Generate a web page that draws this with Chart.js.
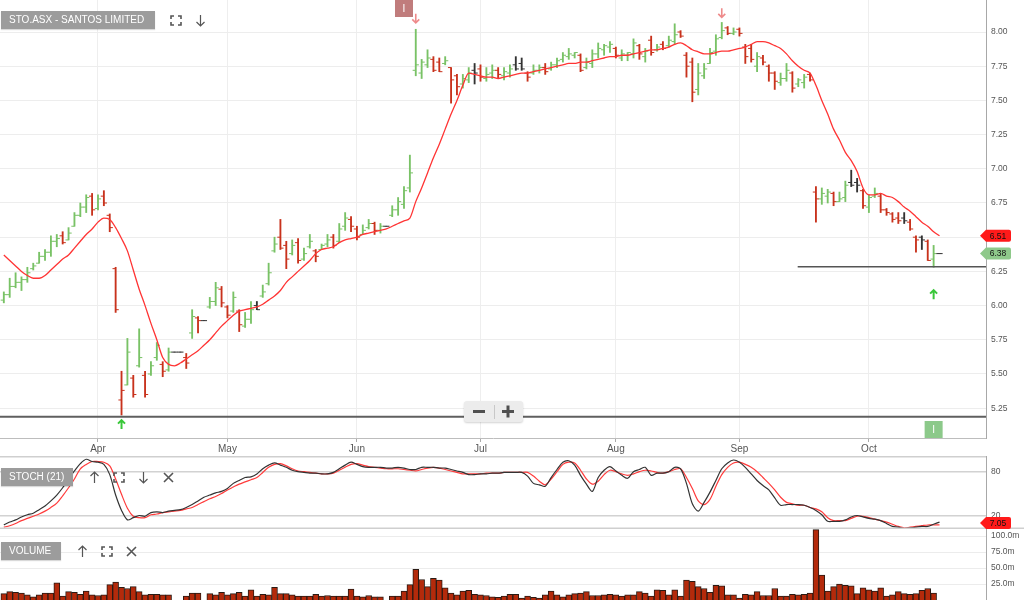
<!DOCTYPE html>
<html>
<head>
<meta charset="utf-8">
<script src="https://cdn.jsdelivr.net/npm/chart.js@4/dist/chart.umd.min.js"></script>
<style>
  body { margin: 0; background: #fff; font-family: "Liberation Sans", Arial, sans-serif; }
  #wrap { position: relative; width: 1024px; height: 603px; overflow: hidden; background: #fff; }
  canvas { position: absolute; left: 0; }
  .lbl { position: absolute; height: 18px; line-height: 18px; background: #9c9c9c; color: #fff;
         font-size: 10px; padding-left: 8px; box-sizing: border-box; box-shadow: 0 1px 1px rgba(0,0,0,.15); }
  .ico { position: absolute; }
  #zoomBox { position: absolute; left: 464px; top: 401px; width: 59px; height: 21px; background: #ececec;
             border-radius: 3px; box-shadow: 0 1px 2px rgba(0,0,0,.18); }
</style>
</head>
<body>
<div id="wrap">
  <canvas id="main" width="1024" height="456" style="top:0"></canvas>
  <canvas id="stoch" width="1024" height="73" style="top:456px"></canvas>
  <canvas id="vol" width="1024" height="71" style="top:529px"></canvas>

  <div class="lbl" style="left:1px;top:11px;width:154px">STO.ASX - SANTOS LIMITED</div>
  <svg class="ico" style="left:170px;top:15px" width="12" height="11"><path d="M1 4V1H4M8 1H11V4M1 7V10H4M8 10H11V7" fill="none" stroke="#555" stroke-width="1.6"/></svg>
  <svg class="ico" style="left:195px;top:14px" width="11" height="13"><path d="M5.5 1V12M1.5 8L5.5 12L9.5 8" fill="none" stroke="#555" stroke-width="1.2"/></svg>

  <div class="lbl" style="left:1px;top:468px;width:72px">STOCH (21)</div>
  <svg class="ico" style="left:89px;top:471px" width="11" height="13"><path d="M5.5 12V1M1.5 5L5.5 1L9.5 5" fill="none" stroke="#555" stroke-width="1.2"/></svg>
  <svg class="ico" style="left:113px;top:472px" width="12" height="11"><path d="M1 4V1H4M8 1H11V4M1 7V10H4M8 10H11V7" fill="none" stroke="#555" stroke-width="1.6"/></svg>
  <svg class="ico" style="left:138px;top:471px" width="11" height="13"><path d="M5.5 1V12M1.5 8L5.5 12L9.5 8" fill="none" stroke="#555" stroke-width="1.2"/></svg>
  <svg class="ico" style="left:163px;top:472px" width="11" height="11"><path d="M1 1L10 10M10 1L1 10" fill="none" stroke="#555" stroke-width="1.6"/></svg>

  <div class="lbl" style="left:1px;top:542px;width:60px">VOLUME</div>
  <svg class="ico" style="left:77px;top:545px" width="11" height="13"><path d="M5.5 12V1M1.5 5L5.5 1L9.5 5" fill="none" stroke="#555" stroke-width="1.2"/></svg>
  <svg class="ico" style="left:101px;top:546px" width="12" height="11"><path d="M1 4V1H4M8 1H11V4M1 7V10H4M8 10H11V7" fill="none" stroke="#555" stroke-width="1.6"/></svg>
  <svg class="ico" style="left:126px;top:546px" width="11" height="11"><path d="M1 1L10 10M10 1L1 10" fill="none" stroke="#555" stroke-width="1.6"/></svg>

  <div id="zoomBox">
    <svg width="59" height="21"><path d="M9 10.5H21" stroke="#505050" stroke-width="3"/><path d="M30.5 4V18" stroke="#c8c8c8" stroke-width="1"/><path d="M38 10.5H50M44 4.5V16.5" stroke="#505050" stroke-width="3"/></svg>
  </div>
</div>

<script>
// one slot per weekday, slot 0 = 10 Mar 2025; holidays shown as flat bars
const monthSlots = [16, 38, 60, 81, 104, 125, 147];
const monthNames = ['Apr', 'May', 'Jun', 'Jul', 'Aug', 'Sep', 'Oct'];
const priceTicks = [5.25, 5.5, 5.75, 6.0, 6.25, 6.5, 6.75, 7.0, 7.25, 7.5, 7.75, 8.0];
const stochTicks = [20, 80];
const volumeTicks = [25, 50, 75, 100];

const opens = [
  6.04, 6.08, 6.14, 6.17, 6.19, 6.27, 6.31, 6.36, 6.39, 6.47,
  6.51, 6.48, 6.58, 6.66, 6.72, 6.80, 6.71, 6.80, 6.66, 6.27,
  5.31, 5.42, 5.47, 5.56, 5.49, 5.50, 5.62, 5.57, 5.53, 5.66,
  5.66, 5.62, 5.80, 5.91, 5.89, 5.99, 6.03, 6.12, 5.99, 5.96,
  5.96, 5.85, 5.90, 6.00, 6.07, 6.16, 6.40, 6.50, 6.44, 6.38,
  6.46, 6.34, 6.43, 6.40, 6.41, 6.45, 6.50, 6.47, 6.58, 6.63,
  6.56, 6.52, 6.57, 6.60, 6.55, 6.58, 6.66, 6.70, 6.74, 6.86,
  7.72, 7.70, 7.76, 7.80, 7.78, 7.77, 7.74, 7.68, 7.62, 7.65,
  7.72, 7.73, 7.66, 7.70, 7.72, 7.68, 7.70, 7.76, 7.77, 7.70,
  7.70, 7.72, 7.74, 7.73, 7.76, 7.80, 7.82, 7.83, 7.83, 7.74,
  7.77, 7.84, 7.87, 7.89, 7.88, 7.81, 7.83, 7.84, 7.90, 7.82,
  7.94, 7.87, 7.91, 7.90, 7.93, 8.00, 7.83, 7.78, 7.58, 7.68,
  7.77, 7.86, 7.96, 8.03, 7.99, 8.02, 7.89, 7.88, 7.75, 7.81,
  7.75, 7.70, 7.63, 7.66, 7.70, 7.62, 7.63, 7.69, 6.83, 6.78,
  6.80, 6.82, 6.76, 6.79, 6.90, 6.90, 6.84, 6.72, 6.80, 6.80,
  6.70, 6.67, 6.64, 6.64, 6.61, 6.50, 6.50, 6.47, 6.34, 6.38
];
const highs = [
  6.10, 6.20, 6.24, 6.21, 6.28, 6.31, 6.39, 6.41, 6.51, 6.52,
  6.54, 6.57, 6.68, 6.75, 6.81, 6.82, 6.81, 6.84, 6.67, 6.28,
  5.52, 5.76, 5.49, 5.83, 5.52, 5.59, 5.73, 5.59, 5.69, 5.66,
  5.66, 5.65, 5.97, 5.92, 5.89, 6.06, 6.17, 6.14, 6.00, 6.10,
  5.97, 5.95, 6.03, 6.03, 6.15, 6.31, 6.50, 6.63, 6.47, 6.48,
  6.49, 6.42, 6.52, 6.41, 6.45, 6.52, 6.52, 6.60, 6.68, 6.65,
  6.58, 6.59, 6.63, 6.61, 6.60, 6.58, 6.73, 6.79, 6.87, 7.10,
  8.02, 7.80, 7.87, 7.82, 7.81, 7.82, 7.74, 7.69, 7.69, 7.74,
  7.77, 7.76, 7.74, 7.76, 7.74, 7.74, 7.76, 7.82, 7.81, 7.71,
  7.76, 7.76, 7.77, 7.78, 7.81, 7.85, 7.88, 7.85, 7.84, 7.81,
  7.87, 7.92, 7.91, 7.93, 7.89, 7.87, 7.85, 7.95, 7.91, 7.88,
  7.97, 7.91, 7.93, 7.97, 8.06, 8.01, 7.85, 7.81, 7.77, 7.77,
  7.88, 7.98, 8.07, 8.04, 8.03, 8.03, 7.91, 7.91, 7.85, 7.83,
  7.76, 7.71, 7.70, 7.77, 7.71, 7.66, 7.69, 7.70, 6.87, 6.86,
  6.85, 6.83, 6.83, 6.91, 6.99, 6.93, 6.85, 6.81, 6.86, 6.82,
  6.71, 6.68, 6.68, 6.68, 6.63, 6.51, 6.51, 6.48, 6.44, 6.38
];
const lows = [
  6.02, 6.06, 6.13, 6.11, 6.17, 6.26, 6.31, 6.33, 6.36, 6.43,
  6.45, 6.48, 6.58, 6.65, 6.68, 6.66, 6.70, 6.73, 6.54, 5.95,
  5.20, 5.42, 5.33, 5.55, 5.33, 5.49, 5.60, 5.48, 5.52, 5.66,
  5.66, 5.54, 5.76, 5.80, 5.89, 5.98, 6.00, 5.99, 5.91, 5.95,
  5.81, 5.84, 5.87, 5.97, 6.06, 6.15, 6.39, 6.41, 6.27, 6.37,
  6.31, 6.33, 6.42, 6.32, 6.41, 6.43, 6.42, 6.46, 6.55, 6.54,
  6.48, 6.52, 6.56, 6.52, 6.53, 6.58, 6.65, 6.66, 6.71, 6.83,
  7.68, 7.66, 7.74, 7.71, 7.71, 7.76, 7.48, 7.54, 7.59, 7.63,
  7.62, 7.64, 7.64, 7.66, 7.66, 7.65, 7.67, 7.72, 7.72, 7.64,
  7.69, 7.70, 7.69, 7.72, 7.74, 7.78, 7.80, 7.81, 7.71, 7.73,
  7.74, 7.81, 7.83, 7.85, 7.81, 7.79, 7.79, 7.81, 7.80, 7.78,
  7.83, 7.86, 7.87, 7.89, 7.91, 7.96, 7.67, 7.49, 7.54, 7.66,
  7.77, 7.83, 7.95, 7.98, 7.98, 7.97, 7.77, 7.78, 7.71, 7.76,
  7.64, 7.58, 7.61, 7.64, 7.56, 7.60, 7.59, 7.64, 6.61, 6.74,
  6.75, 6.73, 6.76, 6.76, 6.87, 6.83, 6.71, 6.68, 6.79, 6.68,
  6.66, 6.61, 6.60, 6.60, 6.55, 6.39, 6.41, 6.33, 6.28, 6.38
];
const closes = [
  6.08, 6.14, 6.17, 6.19, 6.24, 6.29, 6.36, 6.39, 6.47, 6.49,
  6.46, 6.53, 6.66, 6.72, 6.79, 6.70, 6.78, 6.75, 6.57, 5.97,
  5.38, 5.66, 5.35, 5.62, 5.35, 5.56, 5.71, 5.52, 5.66, 5.66,
  5.66, 5.58, 5.92, 5.89, 5.89, 6.03, 6.13, 6.02, 5.93, 6.06,
  5.86, 5.90, 5.97, 5.97, 6.10, 6.24, 6.45, 6.42, 6.34, 6.44,
  6.33, 6.38, 6.47, 6.36, 6.44, 6.48, 6.44, 6.56, 6.64, 6.58,
  6.50, 6.55, 6.60, 6.55, 6.58, 6.58, 6.70, 6.76, 6.84, 6.97,
  7.76, 7.78, 7.81, 7.72, 7.71, 7.79, 7.65, 7.60, 7.66, 7.70,
  7.70, 7.67, 7.69, 7.72, 7.69, 7.71, 7.73, 7.73, 7.73, 7.67,
  7.72, 7.74, 7.71, 7.76, 7.79, 7.83, 7.84, 7.85, 7.72, 7.78,
  7.84, 7.88, 7.90, 7.91, 7.83, 7.84, 7.85, 7.92, 7.84, 7.86,
  7.85, 7.89, 7.88, 7.94, 7.98, 7.97, 7.75, 7.56, 7.70, 7.73,
  7.85, 7.95, 8.01, 7.99, 8.00, 7.99, 7.82, 7.80, 7.82, 7.78,
  7.70, 7.64, 7.66, 7.72, 7.59, 7.65, 7.67, 7.65, 6.78, 6.82,
  6.83, 6.76, 6.78, 6.88, 6.88, 6.88, 6.73, 6.79, 6.82, 6.70,
  6.68, 6.63, 6.62, 6.62, 6.56, 6.48, 6.48, 6.33, 6.38, 6.38
];
const maValues = [
  6.37, 6.33, 6.29, 6.25, 6.22, 6.20, 6.20, 6.22, 6.26, 6.30,
  6.34, 6.37, 6.42, 6.47, 6.52, 6.56, 6.61, 6.64, 6.63, 6.57,
  6.49, 6.40, 6.26, 6.12, 6.00, 5.87, 5.75, 5.62, 5.57, 5.56,
  5.58, 5.61, 5.64, 5.67, 5.71, 5.75, 5.80, 5.85, 5.89, 5.93,
  5.96, 5.97, 5.98, 5.99, 6.01, 6.04, 6.07, 6.11, 6.17, 6.21,
  6.25, 6.29, 6.33, 6.38, 6.41, 6.42, 6.43, 6.46, 6.48, 6.49,
  6.50, 6.52, 6.53, 6.54, 6.55, 6.56, 6.58, 6.60, 6.62, 6.64,
  6.76, 6.86, 6.97, 7.08, 7.18, 7.29, 7.40, 7.50, 7.61, 7.70,
  7.69, 7.68, 7.67, 7.67, 7.66, 7.67, 7.68, 7.69, 7.70, 7.70,
  7.71, 7.72, 7.73, 7.74, 7.75, 7.76, 7.77, 7.77, 7.78, 7.78,
  7.79, 7.80, 7.81, 7.82, 7.82, 7.83, 7.83, 7.84, 7.85, 7.86,
  7.87, 7.87, 7.88, 7.89, 7.91, 7.92, 7.90, 7.87, 7.855, 7.84,
  7.84, 7.85, 7.86, 7.86, 7.87, 7.88, 7.89, 7.91, 7.93, 7.93,
  7.92, 7.90, 7.88, 7.84, 7.79, 7.75, 7.72, 7.70, 7.61, 7.50,
  7.40, 7.29, 7.21, 7.12, 7.06, 6.98, 6.86, 6.81, 6.81, 6.82,
  6.80, 6.79, 6.76, 6.72, 6.69, 6.65, 6.61, 6.58, 6.54, 6.51
];
const stochK = [
  7, 11, 14, 18, 21, 23, 28, 33, 40, 48,
  58, 70, 81, 91, 97, 94, 93, 90, 76, 48,
  27, 14, 17, 20, 19, 24, 25, 24, 26, 27,
  28, 31, 35, 40, 45, 48, 51, 53, 57, 64,
  68, 72, 73, 77, 84, 89, 92, 89, 86, 82,
  80, 79, 78, 78, 77, 77, 79, 84, 89, 93,
  90, 87, 86, 86, 86, 85, 85, 86, 85, 83,
  83, 86, 86, 86, 85, 85, 83, 81, 79, 76,
  76, 77, 77, 78, 78, 79, 79, 79, 79, 74,
  64, 62, 60, 72, 83, 93, 95, 89, 75, 63,
  53, 72, 82, 87, 81, 75, 71, 80, 83, 86,
  75, 78, 78, 80, 86, 84, 64, 36, 26, 38,
  52, 68, 84, 92, 96, 93, 86, 77, 68, 61,
  55, 44, 34, 35, 35, 35, 34, 31, 27, 21,
  12, 12, 12, 14, 18, 20, 18, 16, 15, 13,
  9, 5, 4, 2, 3, 4, 5, 5, 8, 11
];
const stochD = [
  4, 6, 9, 13, 16, 19, 22, 26, 31, 37,
  47, 58, 70, 84, 90, 94, 94, 93, 88, 70,
  49, 30, 19, 17, 17, 21, 22, 24, 25, 26,
  27, 29, 31, 35, 39, 43, 46, 50, 55, 59,
  63, 66, 69, 72, 79, 86, 90, 91, 88, 84,
  81, 80, 79, 78, 77, 77, 78, 82, 86, 90,
  91, 89, 87, 86, 85, 84, 84, 84, 83, 82,
  81, 83, 85, 86, 85, 83, 81, 79, 77, 77,
  77, 77, 78, 78, 78, 79, 79, 79, 79, 79,
  74, 67, 62, 70, 80, 90, 93, 92, 82, 70,
  63, 67, 76, 82, 80, 77, 75, 77, 80, 82,
  81, 79, 78, 80, 83, 84, 72, 57, 40, 35,
  42, 60, 76, 86, 92, 93, 90, 86, 80, 72,
  64, 55, 45, 38, 36, 34, 34, 31, 29, 25,
  17, 13, 13, 13, 16, 19, 19, 17, 15, 13,
  11, 8, 5, 3, 4, 5, 6, 7, 7, 7.05
];
// millions of shares, null = market holiday
const volumes = [
  10, 13, 12, 11, 8, 5, 8, 11, 11, 27,
  6, 13, 12, 9, 14, 8, 7, 8, 24, 28,
  20, 18, 21, 13, 8, 9, 9, 8, 8, null,
  null, 6, 11, 11, null, 10, 8, 12, 8, 10,
  12, 6, 16, 6, 9, 8, 20, 10, 10, 8,
  6, 6, 6, 9, 6, 7, 6, 6, 6, 17,
  6, 5, 7, 5, 5, null, 6, 6, 14, 24,
  48, 32, 21, 34, 31, 19, 11, 8, 14, 15,
  9, 8, 7, 5, 4, 6, 9, 9, 3, 6,
  4, 3, 8, 14, 8, 5, 8, 10, 11, 13,
  7, 7, 8, 9, 8, 6, 8, 8, 13, 11,
  6, 16, 15, 8, 16, 6, 31, 29, 21, 18,
  12, 23, 22, 8, 8, 3, 9, 8, 13, 7,
  7, 18, 6, 6, 9, 8, 9, 11, 110, 39,
  14, 21, 25, 23, 22, 10, 19, 16, 14, 19,
  6, 8, 13, 10, 9, 10, 15, 18, 11, 0
];
const supportPrices = [5.188, 6.284];
const supportFrom = [-0.65, 134.9];
const buySlots = [20, 158];
const buyArrowPrices = [5.13, 6.08];
const sellSlots = [70, 122];
const sellArrowPrices = [8.10, 8.14];
const infoSlots = [68, 158];

const X_MIN = -0.65, X_MAX = 166.9;
const UP = '#79c266', DOWN = '#c8321c', FLAT = '#333333';

Chart.defaults.font.family = '"Liberation Sans", Arial, sans-serif';
Chart.defaults.color = '#555';
Chart.defaults.animation = false;

const barColors = closes.map((c, i) => {
  const prev = i === 0 ? opens[0] : closes[i - 1];
  return c > prev ? UP : (c < prev ? DOWN : FLAT);
});
const pts = (arr, shift = 0) => arr.map((v, i) => ({ x: i + shift, y: v }));

function fixSize(w, h) {
  return (s) => {
    if (w) s.width = w;
    if (h) s.height = h;
    s.paddingTop = 0; s.paddingBottom = 0; s.paddingLeft = 0; s.paddingRight = 0;
  };
}
function setTicks(list) {
  return (s) => { s.ticks = list.map(v => ({ value: v })); };
}
function hiddenX() {
  return { type: 'linear', min: X_MIN, max: X_MAX, offset: false, display: false, grid: { offset: false } };
}
function rightAxis(min, max, list, fmt, gridColor, gridWidth) {
  return {
    position: 'right', min, max,
    grid: { color: gridColor, lineWidth: gridWidth, drawTicks: false },
    border: { display: true, color: '#a8a8a8' },
    ticks: { padding: 5, font: { size: 8.5 }, color: '#555', callback: fmt },
    afterBuildTicks: setTicks(list),
    afterFit: fixSize(38, 0)
  };
}
const baseOptions = {
  responsive: false,
  devicePixelRatio: 1,
  layout: { padding: 0, autoPadding: false },
  plugins: { legend: { display: false }, tooltip: { enabled: false } },
  events: []
};

function drawTag(ctx, area, yPix, text, fill) {
  const top = area.top + 6, bottom = area.bottom - 6;
  const cy = Math.max(top, Math.min(bottom, yPix));
  const l = area.right - 6, r = area.right + 25;
  ctx.save();
  ctx.fillStyle = fill;
  ctx.beginPath();
  ctx.moveTo(l, cy);
  ctx.lineTo(l + 6, cy - 6);
  ctx.lineTo(r - 2, cy - 6);
  ctx.quadraticCurveTo(r, cy - 6, r, cy - 4);
  ctx.lineTo(r, cy + 4);
  ctx.quadraticCurveTo(r, cy + 6, r - 2, cy + 6);
  ctx.lineTo(l + 6, cy + 6);
  ctx.closePath();
  ctx.fill();
  ctx.fillStyle = '#111';
  ctx.font = '8.5px "Liberation Sans", Arial, sans-serif';
  ctx.textAlign = 'center';
  ctx.textBaseline = 'middle';
  ctx.fillText(text, area.right + 12, cy + 0.5);
  ctx.restore();
}

function drawArrow(ctx, cx, cy, up, color, width) {
  const d = up ? -1 : 1;
  ctx.save();
  ctx.strokeStyle = color;
  ctx.lineWidth = width;
  ctx.beginPath();
  ctx.moveTo(cx, cy - 4.5 * d);
  ctx.lineTo(cx, cy + 4.5 * d);
  ctx.moveTo(cx - 3.5, cy + 1 * d);
  ctx.lineTo(cx, cy + 4.5 * d);
  ctx.lineTo(cx + 3.5, cy + 1 * d);
  ctx.stroke();
  ctx.restore();
}

function drawInfo(ctx, cx, top, fill) {
  ctx.save();
  ctx.fillStyle = fill;
  ctx.fillRect(cx - 9, top, 18, 17);
  ctx.fillStyle = '#fff';
  ctx.font = '10px "Liberation Sans", Arial, sans-serif';
  ctx.textAlign = 'center';
  ctx.textBaseline = 'middle';
  ctx.fillText('I', cx, top + 9);
  ctx.restore();
}

const priceMarks = {
  id: 'priceMarks',
  afterDatasetsDraw(chart) {
    const { ctx, chartArea, scales: { x, y } } = chart;
    buySlots.forEach((s, k) => drawArrow(ctx, x.getPixelForValue(s), y.getPixelForValue(buyArrowPrices[k]), true, '#39c739', 2));
    sellSlots.forEach((s, k) => drawArrow(ctx, x.getPixelForValue(s), y.getPixelForValue(sellArrowPrices[k]), false, '#ee8a8a', 1.6));
    drawInfo(ctx, x.getPixelForValue(infoSlots[0]), chartArea.top, '#c07c7c');
    drawInfo(ctx, x.getPixelForValue(infoSlots[1]), chartArea.bottom - 17, '#8cc98a');
    const last = closes.length - 1;
    drawTag(ctx, chartArea, y.getPixelForValue(maValues[last]), maValues[last].toFixed(2), '#ff1a1a');
    drawTag(ctx, chartArea, y.getPixelForValue(closes[last]), closes[last].toFixed(2), '#8ec98a');
  }
};

const supportSets = supportPrices.map((p, k) => ({
  type: 'line',
  data: [{ x: supportFrom[k], y: p }, { x: X_MAX, y: p }],
  borderColor: k === 0 ? '#5f5f5f' : '#555',
  borderWidth: k === 0 ? 2 : 1.6,
  pointRadius: 0,
  order: 1
}));

new Chart(document.getElementById('main'), {
  type: 'bar',
  data: {
    datasets: [
      {
        type: 'line', data: pts(maValues), borderColor: '#ff3434', borderWidth: 1.3,
        pointRadius: 0, cubicInterpolationMode: 'monotone', order: 0
      },
      ...supportSets,
      {
        type: 'line', data: pts(opens, -0.26), showLine: false, pointStyle: 'line',
        pointRadius: 1.6, pointBorderWidth: 1, pointBorderColor: barColors, pointBackgroundColor: barColors, order: 2
      },
      {
        type: 'line', data: pts(closes, 0.26), showLine: false, pointStyle: 'line',
        pointRadius: 1.6, pointBorderWidth: 1, pointBorderColor: barColors, pointBackgroundColor: barColors, order: 2
      },
      {
        data: highs.map((h, i) => ({ x: i, y: [lows[i], h] })),
        backgroundColor: barColors, barThickness: 1.2, order: 3
      }
    ]
  },
  options: {
    ...baseOptions,
    scales: {
      x: {
        type: 'linear', min: X_MIN, max: X_MAX, offset: false,
        grid: { offset: false, color: '#eeeeee', tickLength: 4, tickColor: '#aaa', drawTicks: true },
        border: { display: true, color: '#bdbdbd' },
        ticks: {
          padding: 1, maxRotation: 0, autoSkip: false, font: { size: 10 }, color: '#555',
          callback: (v) => monthNames[monthSlots.indexOf(v)]
        },
        afterBuildTicks: setTicks(monthSlots),
        afterFit: fixSize(0, 18)
      },
      y: rightAxis(5.032, 8.234, priceTicks, (v) => v.toFixed(2), '#ededed', 1)
    }
  },
  plugins: [priceMarks]
});

const stochFrame = {
  id: 'stochFrame',
  afterDraw(chart) {
    const { ctx, chartArea: a, scales: { y } } = chart;
    ctx.save();
    ctx.strokeStyle = '#cfcfcf';
    ctx.lineWidth = 1.5;
    ctx.beginPath();
    ctx.moveTo(0, a.top + 0.75);
    ctx.lineTo(a.right, a.top + 0.75);
    ctx.moveTo(0, a.bottom - 0.75);
    ctx.lineTo(1024, a.bottom - 0.75);
    ctx.stroke();
    ctx.restore();
    const last = stochD.length - 1;
    drawTag(ctx, a, y.getPixelForValue(stochD[last]), stochD[last].toFixed(2), '#ff1a1a');
  }
};

new Chart(document.getElementById('stoch'), {
  type: 'line',
  data: {
    datasets: [
      { data: pts(stochK), borderColor: '#333', borderWidth: 1.2, pointRadius: 0, tension: 0.3, order: 0 },
      { data: pts(stochD), borderColor: '#ff3b3b', borderWidth: 1.2, pointRadius: 0, tension: 0.3, order: 1 }
    ]
  },
  options: {
    ...baseOptions,
    scales: {
      x: hiddenX(),
      y: rightAxis(1.5, 101.5, stochTicks, (v) => String(v), '#d2d2d2', 1.5)
    }
  },
  plugins: [stochFrame]
});

new Chart(document.getElementById('vol'), {
  type: 'bar',
  data: {
    datasets: [{
      data: pts(volumes),
      backgroundColor: '#b42a0b', borderColor: '#2a1b14', borderWidth: 1,
      barPercentage: 1, categoryPercentage: 1
    }]
  },
  options: {
    ...baseOptions,
    scales: {
      x: hiddenX(),
      y: rightAxis(0, 111, volumeTicks, (v) => v.toFixed(1) + 'm', '#ececec', 1)
    }
  }
});
</script>
</body>
</html>
